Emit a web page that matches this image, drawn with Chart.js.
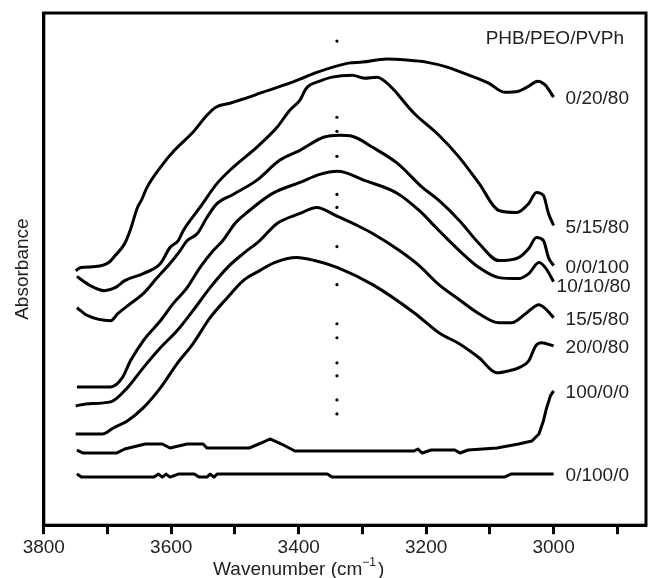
<!DOCTYPE html>
<html>
<head>
<meta charset="utf-8">
<script src="https://cdn.jsdelivr.net/npm/chart.js@4.4.1/dist/chart.umd.min.js"></script>
<style>
  html, body { margin: 0; padding: 0; background: #fff; }
  #wrap { width: 650px; height: 578px; }
</style>
</head>
<body>
<div id="wrap"><canvas id="chart" width="650" height="578"></canvas></div>
<script>
// FTIR hydroxyl region of PHB/PEO/PVPh blends, curves offset vertically
const seriesNames = ['0/20/80', '5/15/80', '0/0/100', '10/10/80', '15/5/80', '20/0/80', '100/0/0', '0/100/0'];

// [wavenumber (cm-1), absorbance (a.u., offset)]
const blend_0_20_80 = [
  [3750, 2.54], [3742, 2.57], [3719, 2.58], [3698, 2.62], [3688, 2.69], [3673, 2.81], [3664, 2.95],
  [3653, 3.17], [3647, 3.24], [3638, 3.37], [3617, 3.57], [3595, 3.74], [3566, 3.92], [3544, 4.09],
  [3530, 4.17], [3508, 4.21], [3478, 4.27], [3461, 4.31], [3414, 4.41], [3398, 4.45], [3375, 4.51],
  [3322, 4.61], [3300, 4.62], [3262, 4.65], [3231, 4.64], [3200, 4.62], [3167, 4.57], [3133, 4.49],
  [3102, 4.41], [3077, 4.32], [3055, 4.33], [3039, 4.38], [3025, 4.43], [3013, 4.39], [3000, 4.27]
];
const blend_5_15_80 = [
  [3748, 2.48], [3727, 2.39], [3705, 2.34], [3688, 2.37], [3673, 2.44], [3644, 2.51], [3617, 2.61],
  [3602, 2.77], [3589, 2.84], [3581, 2.94], [3555, 3.17], [3528, 3.41], [3503, 3.57], [3466, 3.77],
  [3434, 3.97], [3414, 4.14], [3398, 4.24], [3388, 4.36], [3367, 4.43], [3348, 4.47], [3316, 4.49],
  [3297, 4.46], [3277, 4.47], [3258, 4.39], [3219, 4.11], [3180, 3.89], [3148, 3.67], [3117, 3.41],
  [3086, 3.14], [3058, 3.12], [3039, 3.21], [3027, 3.32], [3016, 3.29], [3008, 3.11], [3000, 2.99]
];
const blend_0_0_100 = [
  [3748, 2.17], [3731, 2.09], [3695, 2.04], [3684, 2.11], [3664, 2.21], [3644, 2.31], [3622, 2.47],
  [3602, 2.61], [3586, 2.74], [3575, 2.84], [3559, 2.91], [3544, 3.07], [3528, 3.21], [3503, 3.30],
  [3466, 3.44], [3430, 3.64], [3398, 3.74], [3361, 3.87], [3336, 3.89], [3316, 3.88], [3284, 3.77],
  [3245, 3.61], [3206, 3.37], [3180, 3.24], [3148, 3.04], [3117, 2.81], [3086, 2.64], [3055, 2.67],
  [3039, 2.76], [3027, 2.87], [3016, 2.84], [3008, 2.67], [3000, 2.59]
];
const blend_10_10_80 = [
  [3748, 1.38], [3695, 1.38], [3677, 1.47], [3664, 1.64], [3644, 1.84], [3617, 2.04], [3597, 2.21],
  [3575, 2.37], [3555, 2.57], [3534, 2.74], [3519, 2.84], [3500, 3.01], [3481, 3.12], [3441, 3.31],
  [3398, 3.42], [3367, 3.50], [3339, 3.53], [3297, 3.44], [3245, 3.31], [3211, 3.14], [3180, 2.94],
  [3148, 2.74], [3117, 2.57], [3086, 2.47], [3055, 2.46], [3039, 2.51], [3023, 2.62], [3013, 2.57],
  [3000, 2.43]
];
const blend_15_5_80 = [
  [3750, 1.19], [3734, 1.21], [3695, 1.23], [3669, 1.37], [3644, 1.57], [3617, 1.77], [3591, 1.94],
  [3566, 2.14], [3539, 2.37], [3512, 2.57], [3487, 2.71], [3461, 2.84], [3434, 3.01], [3398, 3.11],
  [3372, 3.17], [3339, 3.08], [3305, 2.98], [3284, 2.91], [3242, 2.74], [3211, 2.59], [3180, 2.40],
  [3148, 2.25], [3117, 2.11], [3086, 2.02], [3066, 2.02], [3044, 2.11], [3023, 2.20], [3013, 2.16],
  [3000, 2.07]
];
const blend_20_0_80 = [
  [3750, 0.91], [3708, 0.91], [3691, 0.97], [3669, 1.04], [3644, 1.17], [3617, 1.37], [3591, 1.61],
  [3566, 1.81], [3539, 2.07], [3512, 2.27], [3487, 2.44], [3461, 2.54], [3438, 2.62], [3403, 2.67],
  [3375, 2.64], [3339, 2.57], [3284, 2.40], [3219, 2.12], [3180, 1.92], [3148, 1.81], [3117, 1.67],
  [3089, 1.52], [3070, 1.54], [3055, 1.57], [3039, 1.64], [3028, 1.79], [3019, 1.82], [3000, 1.79]
];
const blend_100_0_0 = [
  [3748, 0.75], [3738, 0.72], [3686, 0.72], [3673, 0.76], [3641, 0.81], [3614, 0.81], [3602, 0.77],
  [3575, 0.81], [3550, 0.81], [3544, 0.77], [3478, 0.77], [3459, 0.82], [3445, 0.86], [3427, 0.81],
  [3406, 0.74], [3219, 0.74], [3213, 0.76], [3206, 0.72], [3192, 0.75], [3155, 0.75], [3147, 0.72],
  [3134, 0.75], [3089, 0.77], [3055, 0.81], [3034, 0.84], [3023, 0.91], [3016, 1.04], [3011, 1.17],
  [3005, 1.29], [3000, 1.34]
];
const blend_0_100_0 = [
  [3748, 0.51], [3741, 0.48], [3627, 0.48], [3620, 0.51], [3614, 0.48], [3608, 0.51], [3602, 0.48],
  [3589, 0.51], [3564, 0.51], [3556, 0.48], [3544, 0.48], [3539, 0.51], [3533, 0.48], [3528, 0.51],
  [3355, 0.51], [3348, 0.48], [3077, 0.48], [3067, 0.51], [3000, 0.51]
];

const seriesData = [
  blend_0_20_80, blend_5_15_80, blend_0_0_100, blend_10_10_80,
  blend_15_5_80, blend_20_0_80, blend_100_0_0, blend_0_100_0
];

// dotted guide at the H-bonded OH band
const markerWavenumber = 3340;
const markerDots = [4.83, 4.07, 3.93, 3.68, 3.30, 3.17, 2.78, 2.40, 2.01, 1.87, 1.62, 1.49, 1.25, 1.11];

const tickValues = [3800, 3700, 3600, 3500, 3400, 3300, 3200, 3100, 3000, 2900];
const labeledTicks = [3800, 3600, 3400, 3200, 3000];
const xMin = 2855, xMax = 3800;
const yMin = 0, yMax = 5.11;

const FONT = '"Liberation Sans", Arial, Helvetica, sans-serif';
const TEXT = '#222';
const labelNudge = { '10/10/80': [-9, 3] };
const flatSeries = ['100/0/0', '0/100/0'];

const toPoints = pairs => pairs.map(([x, y]) => ({ x, y }));

const frame = {
  id: 'frame',
  afterDatasetsDraw(chart) {
    const { ctx, chartArea: a } = chart;
    ctx.save();
    ctx.strokeStyle = '#000';
    ctx.lineWidth = 3;
    ctx.strokeRect(a.left, a.top, a.right - a.left, a.bottom - a.top);
    ctx.restore();
  }
};

const annotations = {
  id: 'annotations',
  afterDraw(chart) {
    const { ctx, chartArea, scales } = chart;
    ctx.save();
    ctx.fillStyle = TEXT;
    ctx.font = '19px ' + FONT;
    ctx.textBaseline = 'middle';
    ctx.textAlign = 'left';

    seriesNames.forEach((name, i) => {
      const pts = chart.getDatasetMeta(i).data;
      const last = pts[pts.length - 1];
      const n = labelNudge[name] || [0, 0];
      ctx.fillText(name, last.x + 12 + n[0], last.y + 2 + n[1]);
    });

    ctx.textAlign = 'right';
    ctx.fillText('PHB/PEO/PVPh', chartArea.right - 22, chartArea.top + 26);

    // x title with superscript
    const main = 'Wavenumber (cm';
    const sup = '\u22121';
    const w1 = ctx.measureText(main).width;
    const w3 = ctx.measureText(')').width;
    ctx.font = '12px ' + FONT;
    const w2 = ctx.measureText(sup).width;
    const total = w1 + w2 + 2 + w3;
    let x = scales.x.getPixelForValue(3400) - total / 2;
    const base = chart.height - 3;
    ctx.textAlign = 'left';
    ctx.textBaseline = 'alphabetic';
    ctx.font = '19px ' + FONT;
    ctx.fillText(main, x, base);
    x += w1;
    ctx.font = '12px ' + FONT;
    ctx.fillText(sup, x, base - 9);
    x += w2 + 2;
    ctx.font = '19px ' + FONT;
    ctx.fillText(')', x, base);
    ctx.restore();
  }
};

const datasets = seriesData.map((pairs, i) => ({
  label: seriesNames[i],
  data: toPoints(pairs),
  borderColor: '#000',
  borderWidth: 3,
  borderJoinStyle: 'round',
  pointRadius: 0,
  cubicInterpolationMode: flatSeries.includes(seriesNames[i]) ? 'default' : 'monotone',
  tension: flatSeries.includes(seriesNames[i]) ? 0 : 0.4,
  fill: false
}));

datasets.push({
  label: 'guide',
  type: 'scatter',
  data: markerDots.map(y => ({ x: markerWavenumber, y })),
  showLine: false,
  pointRadius: 1.6,
  pointBorderWidth: 0,
  pointBackgroundColor: '#000'
});

new Chart(document.getElementById('chart'), {
  type: 'line',
  data: { datasets },
  options: {
    responsive: false,
    animation: false,
    layout: { padding: { left: 10, right: 2, top: 13, bottom: 17 } },
    plugins: { legend: { display: false }, tooltip: { enabled: false } },
    scales: {
      x: {
        type: 'linear',
        reverse: true,
        min: xMin,
        max: xMax,
        afterBuildTicks: scale => { scale.ticks = tickValues.map(value => ({ value })); },
        ticks: {
          autoSkip: false,
          maxRotation: 0,
          padding: 2,
          color: TEXT,
          font: { family: FONT, size: 19 },
          callback: v => labeledTicks.includes(v) ? String(v) : ''
        },
        grid: { drawOnChartArea: false, tickLength: 9, tickWidth: 3, tickColor: '#000' },
        border: { display: true, color: '#000', width: 3 }
      },
      y: {
        min: yMin,
        max: yMax,
        ticks: { display: false },
        grid: { display: false },
        border: { display: true, color: '#000', width: 3 },
        title: {
          display: true,
          text: 'Absorbance',
          color: TEXT,
          font: { family: FONT, size: 19 },
          padding: { top: 1, bottom: 2 }
        }
      }
    }
  },
  plugins: [frame, annotations]
});
</script>
</body>
</html>
